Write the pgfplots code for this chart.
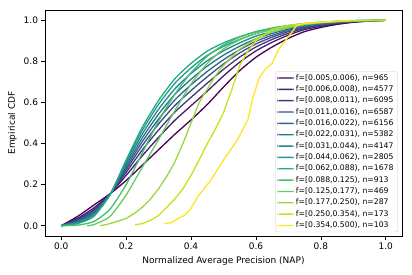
\documentclass[border=0pt]{standalone}
\usepackage{fontspec}
\setmainfont{DejaVu Sans}
\usepackage{pgfplots}
\pgfplotsset{compat=1.18}
\definecolor{c0}{HTML}{440154}
\definecolor{c1}{HTML}{481C6E}
\definecolor{c2}{HTML}{453581}
\definecolor{c3}{HTML}{3D4D8A}
\definecolor{c4}{HTML}{34618D}
\definecolor{c5}{HTML}{2B748E}
\definecolor{c6}{HTML}{24878E}
\definecolor{c7}{HTML}{1F9A8A}
\definecolor{c8}{HTML}{25AB82}
\definecolor{c9}{HTML}{42BE71}
\definecolor{c10}{HTML}{65CB5E}
\definecolor{c11}{HTML}{98D83E}
\definecolor{c12}{HTML}{CAE11F}
\definecolor{c13}{HTML}{FDE725}
\begin{document}
\begin{tikzpicture}
\useasboundingbox (-45bp,-39bp) rectangle (367bp,236bp);
\begin{axis}[
  at={(0,0)}, anchor=south west,
  scale only axis, width=357bp, height=226bp,
  xmin=-0.05, xmax=1.05, ymin=-0.05, ymax=1.05,
  xtick={0,0.2,0.4,0.6,0.8,1.0},
  ytick={0,0.2,0.4,0.6,0.8,1.0},
  tick align=outside, major tick length=3.5bp,
  xtick pos=bottom, ytick pos=left,
  axis line style={line width=0.6bp},
  every tick/.style={line width=0.6bp, black},
  /pgf/number format/assume math mode=true,
  xticklabel style={/pgf/number format/.cd, fixed, fixed zerofill, precision=1},
  yticklabel style={/pgf/number format/.cd, fixed, fixed zerofill, precision=1},
  ticklabel style={font=\fontsize{9bp}{10bp}\selectfont},
  label style={font=\fontsize{9bp}{10bp}\selectfont},
  xlabel={Normalized Average Precision (NAP)},
  ylabel={Empirical CDF},
  every axis plot/.append style={line width=1.3bp},
  legend cell align=left,
  legend image code/.code={\fill[#1, draw=none] (0bp,-0.7bp) rectangle (16.5bp,0.7bp);},
  legend style={at={(rel axis cs:0.988,0.017)}, anchor=south east,
    font=\fontsize{7.7bp}{9bp}\selectfont, draw=black!20, rounded corners=2bp,
    inner xsep=2bp, inner ysep=2bp, row sep=2.4bp,
    nodes={inner ysep=0.8bp, inner xsep=2bp}},
]
\addplot[c0, smooth, tension=0.4] coordinates {(0,0) (0.05,0.045) (0.1,0.10) (0.15,0.155) (0.2,0.22) (0.25,0.295) (0.3,0.37) (0.35,0.445) (0.4,0.515) (0.45,0.59) (0.5,0.675) (0.55,0.755) (0.6,0.82) (0.65,0.87) (0.7,0.912) (0.75,0.945) (0.8,0.965) (0.85,0.98) (0.9,0.99) (0.95,0.996) (1.0,1.0)};
\addlegendentry{f=[0.005,0.006), n=965}
\addplot[c1, smooth, tension=0.4] coordinates {(0,0) (0.05,0.036) (0.1,0.086) (0.15,0.154) (0.2,0.245) (0.25,0.341) (0.3,0.43) (0.35,0.513) (0.4,0.584) (0.45,0.655) (0.5,0.729) (0.55,0.796) (0.6,0.851) (0.65,0.893) (0.7,0.928) (0.75,0.955) (0.8,0.971) (0.85,0.984) (0.9,0.992) (0.95,0.997) (1.0,1.0)};
\addlegendentry{f=[0.006,0.008), n=4577}
\addplot[c2, smooth, tension=0.4] coordinates {(0,0) (0.05,0.031) (0.1,0.078) (0.15,0.153) (0.2,0.26) (0.25,0.369) (0.3,0.466) (0.35,0.553) (0.4,0.625) (0.45,0.694) (0.5,0.761) (0.55,0.821) (0.6,0.87) (0.65,0.907) (0.7,0.937) (0.75,0.961) (0.8,0.975) (0.85,0.986) (0.9,0.993) (0.95,0.997) (1.0,1.0)};
\addlegendentry{f=[0.008,0.011), n=6095}
\addplot[c3, smooth, tension=0.4] coordinates {(0,0) (0.05,0.027) (0.1,0.071) (0.15,0.152) (0.2,0.272) (0.25,0.391) (0.3,0.495) (0.35,0.585) (0.4,0.658) (0.45,0.725) (0.5,0.787) (0.55,0.841) (0.6,0.885) (0.65,0.918) (0.7,0.945) (0.75,0.965) (0.8,0.978) (0.85,0.988) (0.9,0.994) (0.95,0.998) (1.0,1.0)};
\addlegendentry{f=[0.011,0.016), n=6587}
\addplot[c4, smooth, tension=0.4] coordinates {(0,0) (0.05,0.023) (0.1,0.066) (0.15,0.152) (0.2,0.282) (0.25,0.41) (0.3,0.519) (0.35,0.612) (0.4,0.686) (0.45,0.751) (0.5,0.808) (0.55,0.857) (0.6,0.898) (0.65,0.927) (0.7,0.951) (0.75,0.969) (0.8,0.981) (0.85,0.989) (0.9,0.995) (0.95,0.998) (1.0,1.0)};
\addlegendentry{f=[0.016,0.022), n=6156}
\addplot[c5, smooth, tension=0.4] coordinates {(0,0) (0.05,0.02) (0.1,0.06) (0.15,0.151) (0.2,0.292) (0.25,0.428) (0.3,0.543) (0.35,0.639) (0.4,0.713) (0.45,0.777) (0.5,0.83) (0.55,0.874) (0.6,0.91) (0.65,0.936) (0.7,0.957) (0.75,0.973) (0.8,0.983) (0.85,0.991) (0.9,0.996) (0.95,0.998) (1.0,1.0)};
\addlegendentry{f=[0.022,0.031), n=5382}
\addplot[c6, smooth, tension=0.4] coordinates {(0,0) (0.05,0.016) (0.1,0.055) (0.15,0.151) (0.2,0.302) (0.25,0.447) (0.3,0.567) (0.35,0.666) (0.4,0.741) (0.45,0.803) (0.5,0.851) (0.55,0.89) (0.6,0.923) (0.65,0.945) (0.7,0.964) (0.75,0.977) (0.8,0.986) (0.85,0.992) (0.9,0.997) (0.95,0.999) (1.0,1.0)};
\addlegendentry{f=[0.031,0.044), n=4147}
\addplot[c7, smooth, tension=0.4] coordinates {(0,0) (0.05,0.013) (0.1,0.049) (0.15,0.15) (0.2,0.312) (0.25,0.465) (0.3,0.591) (0.35,0.693) (0.4,0.768) (0.45,0.829) (0.5,0.873) (0.55,0.907) (0.6,0.935) (0.65,0.955) (0.7,0.97) (0.75,0.981) (0.8,0.988) (0.85,0.994) (0.9,0.997) (0.95,0.999) (1.0,1.0)};
\addlegendentry{f=[0.044,0.062), n=2805}
\addplot[c8, smooth, tension=0.4] coordinates {(0,0) (0.05,0.01) (0.1,0.045) (0.15,0.15) (0.2,0.32) (0.25,0.48) (0.3,0.61) (0.35,0.715) (0.4,0.79) (0.45,0.85) (0.5,0.89) (0.55,0.92) (0.6,0.945) (0.65,0.962) (0.7,0.975) (0.75,0.984) (0.8,0.99) (0.85,0.995) (0.9,0.998) (0.95,0.999) (1.0,1.0)};
\addlegendentry{f=[0.062,0.088), n=1678}
\addplot[c9, smooth, tension=0.4] coordinates {(0,0) (0.05,0.003) (0.1,0.02) (0.15,0.08) (0.2,0.2) (0.25,0.355) (0.3,0.51) (0.35,0.64) (0.4,0.745) (0.45,0.825) (0.5,0.88) (0.55,0.918) (0.6,0.943) (0.65,0.96) (0.7,0.973) (0.75,0.983) (0.8,0.99) (0.85,0.995) (0.9,0.998) (1.0,1.0)};
\addlegendentry{f=[0.088,0.125), n=913}
\addplot[c10, smooth, tension=0.4] coordinates {(0.08,0) (0.1,0.005) (0.15,0.045) (0.2,0.15) (0.25,0.285) (0.3,0.42) (0.35,0.56) (0.4,0.69) (0.45,0.79) (0.5,0.86) (0.55,0.905) (0.6,0.935) (0.65,0.955) (0.7,0.97) (0.75,0.98) (0.8,0.988) (0.85,0.994) (0.9,0.997) (1.0,1.0)};
\addlegendentry{f=[0.125,0.177), n=469}
\addplot[c11] coordinates {(0.12,0) (0.15,0.01) (0.2,0.035) (0.225,0.06) (0.25,0.09) (0.275,0.13) (0.3,0.18) (0.325,0.24) (0.35,0.31) (0.375,0.4) (0.4,0.5) (0.425,0.6) (0.45,0.665) (0.475,0.73) (0.5,0.78) (0.55,0.86) (0.6,0.91) (0.65,0.945) (0.7,0.965) (0.75,0.98) (0.8,0.99) (0.9,0.998) (1.0,1.0)};
\addlegendentry{f=[0.177,0.250), n=287}
\addplot[c12] coordinates {(0.228,0.005) (0.25,0.01) (0.28,0.03) (0.3,0.05) (0.325,0.09) (0.35,0.13) (0.375,0.18) (0.4,0.245) (0.425,0.32) (0.45,0.40) (0.475,0.47) (0.5,0.55) (0.525,0.66) (0.55,0.78) (0.575,0.85) (0.6,0.9) (0.65,0.955) (0.7,0.975) (0.75,0.985) (0.8,0.992) (0.9,0.998) (1.0,1.0)};
\addlegendentry{f=[0.250,0.354), n=173}
\addplot[c13] coordinates {(0.318,0.01) (0.34,0.015) (0.36,0.035) (0.38,0.05) (0.4,0.085) (0.42,0.14) (0.44,0.18) (0.46,0.22) (0.48,0.27) (0.5,0.32) (0.52,0.365) (0.54,0.41) (0.56,0.47) (0.575,0.515) (0.59,0.62) (0.61,0.72) (0.63,0.765) (0.65,0.79) (0.67,0.86) (0.69,0.9) (0.71,0.94) (0.725,0.975) (0.75,0.985) (0.8,0.99) (0.85,0.995) (0.89,1.0)};
\addlegendentry{f=[0.354,0.500), n=103}
\end{axis}
\end{tikzpicture}
\end{document}
